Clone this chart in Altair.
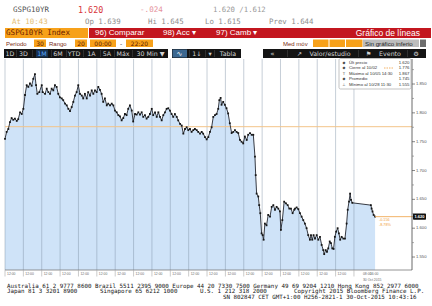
import altair as alt
import pandas as pd

# ---------------- data ----------------
# t = trading-day position (one unit per session), v = yield
T = [0.00,0.09,0.18,0.27,0.36,0.45,0.54,0.64,0.72,0.82,
     0.91,1.00,1.09,1.18,1.27,1.36,1.45,1.54,1.63,1.69,
     1.76,1.87,2.00,2.05,2.18,2.27,2.36,2.45,2.54,2.63,
     2.72,2.81,2.90,2.99,3.09,3.17,3.27,3.36,3.45,3.54,
     3.63,3.72,3.81,3.90,3.99,4.08,4.18,4.26,4.35,4.45,
     4.53,4.63,4.72,4.81,4.90,4.99,5.08,5.17,5.26,5.35,
     5.44,5.54,5.62,5.72,5.81,5.90,5.99,6.08,6.17,6.26,
     6.35,6.44,6.53,6.62,6.71,6.80,6.90,6.98,7.08,7.17,
     7.26,7.35,7.44,7.53,7.62,7.71,7.80,7.89,7.99,8.07,
     8.17,8.26,8.35,8.44,8.53,8.62,8.71,8.80,8.89,8.98,
     9.07,9.16,9.25,9.35,9.43,9.53,9.62,9.71,9.80,9.89,
     9.98,10.07,10.16,10.25,10.34,10.44,10.52,10.62,10.71,10.79,
     10.89,10.98,11.07,11.16,11.25,11.34,11.43,11.52,11.61,11.67,
     11.74,11.79,11.88,11.97,12.06,12.15,12.24,12.34,12.43,12.52,
     12.61,12.70,12.79,12.88,12.97,13.06,13.16,13.24,13.34,13.43,
     13.52,13.61,13.65,13.70,13.79,13.84,13.90,13.97,14.03,14.08,
     14.15,14.24,14.33,14.43,14.52,14.61,14.70,14.79,14.88,14.97,
     15.02,15.10,15.20,15.30,15.39,15.48,15.57,15.66,15.75,15.79,
     15.88,15.97,16.06,16.15,16.24,16.33,16.42,16.51,16.60,16.66,
     16.73,16.80,16.88,16.97,17.06,17.15,17.24,17.33,17.38,17.46,
     17.53,17.60,17.68,17.75,17.82,17.89,17.96,18.03,18.11,18.18,
     18.25,18.33,18.42,18.51,18.60,18.66,18.73,18.79,18.84,18.91,
     19.92,19.96,20.01,20.07,20.15]
V = [1.755,1.767,1.772,1.784,1.791,1.788,1.790,1.786,1.789,1.801,
     1.798,1.807,1.831,1.848,1.845,1.851,1.847,1.859,1.867,1.848,
     1.833,1.836,1.848,1.836,1.833,1.842,1.836,1.833,1.842,1.839,
     1.848,1.845,1.833,1.827,1.825,1.822,1.816,1.813,1.807,1.803,
     1.810,1.819,1.830,1.836,1.848,1.833,1.830,1.825,1.833,1.825,
     1.836,1.830,1.839,1.833,1.839,1.836,1.845,1.840,1.833,1.819,
     1.825,1.813,1.816,1.813,1.816,1.813,1.804,1.801,1.796,1.794,
     1.787,1.791,1.798,1.796,1.807,1.813,1.804,1.785,1.798,1.797,
     1.801,1.797,1.801,1.793,1.796,1.790,1.793,1.798,1.807,1.796,
     1.801,1.793,1.801,1.793,1.787,1.796,1.801,1.807,1.808,1.804,
     1.798,1.793,1.798,1.793,1.787,1.781,1.778,1.764,1.772,1.775,
     1.770,1.772,1.767,1.770,1.772,1.770,1.767,1.764,1.767,1.764,
     1.758,1.754,1.758,1.767,1.775,1.793,1.796,1.798,1.807,1.822,
     1.826,1.814,1.819,1.814,1.808,1.799,1.782,1.765,1.767,1.770,
     1.767,1.765,1.753,1.750,1.747,1.759,1.753,1.762,1.765,1.762,
     1.762,1.724,1.692,1.660,1.655,1.640,1.626,1.591,1.588,1.580,
     1.608,1.605,1.623,1.620,1.637,1.640,1.632,1.637,1.634,1.629,
     1.597,1.614,1.646,1.643,1.640,1.634,1.634,1.626,1.632,1.634,
     1.636,1.633,1.626,1.620,1.614,1.608,1.600,1.588,1.580,1.588,
     1.580,1.588,1.582,1.588,1.580,1.585,1.571,1.562,1.555,1.562,
     1.559,1.565,1.577,1.574,1.565,1.564,1.585,1.594,1.600,1.591,
     1.580,1.585,1.582,1.582,1.608,1.632,1.646,1.660,1.649,1.644,
     1.640,1.634,1.629,1.623,1.620]

GRID_T = list(range(20))
X_LABEL_T = list(range(19)) + [19.38, 19.76]
X_LABELS = ["12:00"] * 19 + ["08:00", "16:00"]
X_DATE_T = [19.38]
X_DATE = ["30 Oct 2015"]
Y_TICKS = [1.55, 1.60, 1.65, 1.70, 1.75, 1.80, 1.85]
Y_LABELS = ["1.550", "1.600", "1.650", "1.700", "1.750", "1.800", "1.850"]
Y_MINOR = [1.575, 1.625, 1.675, 1.725, 1.775, 1.825, 1.875]
CLOSE_REF = [1.776]
LAST_T = [20.15]
LAST_V = [1.620]
LAST_LABEL = ["1.620"]
CHANGE_T = [20.36]
CHANGE_TXT = ["-0.156", "-8.78%"]
X_DOMAIN = [0, 22.16]
Y_DOMAIN = [1.5275, 1.8934]

LEGEND_LABELS = ["Últ precio", "Cierre al 10/02", "Máximo al 10/05 14:30", "Promedio", "Mínimo al 10/28 11:30"]
LEGEND_VALUES = ["1.620", "1.776", "1.867", "1.745", "1.555"]
LEGEND_SYMBOLS = ["◆", "◆", "T", "◆", "⊥"]

assert len(T) == len(V)

# ---------------- layout (page pixels) ----------------
W, H = 407, 211
OX, OY = 5, 59

series = pd.DataFrame({"t": T, "v": V})
xs = alt.Scale(domain=X_DOMAIN, nice=False, zero=False)
ys = alt.Scale(domain=Y_DOMAIN, nice=False, zero=False)

area = alt.Chart(series).mark_area(color="#cfe3f8", clip=True).encode(
    x=alt.X("t:Q", scale=xs, axis=None),
    y=alt.Y("v:Q", scale=ys, axis=None))

grid = alt.Chart(pd.DataFrame({"g": GRID_T})).mark_rule(
    color="#7d8ea3", opacity=0.55, strokeWidth=0.8).encode(x=alt.X("g:Q", scale=xs, axis=None))

close = alt.Chart(pd.DataFrame({"c": CLOSE_REF})).mark_rule(
    color="#f3c489", strokeWidth=1).encode(y=alt.Y("c:Q", scale=ys, axis=None))

line = alt.Chart(series).mark_line(color="#23262f", strokeWidth=0.9).encode(
    x=alt.X("t:Q", scale=xs, axis=None), y=alt.Y("v:Q", scale=ys, axis=None))
pts = alt.Chart(series).mark_point(shape="square", size=3.2, filled=True, color="#161616", opacity=1).encode(
    x=alt.X("t:Q", scale=xs, axis=None), y=alt.Y("v:Q", scale=ys, axis=None))

last_df = pd.DataFrame({"t": LAST_T, "v": LAST_V, "lab": LAST_LABEL})
last_rule = alt.Chart(last_df).mark_rule(color="#f2b469", strokeWidth=1).encode(
    x=alt.X("t:Q", scale=xs, axis=None), x2=alt.value(W + 1), y=alt.Y("v:Q", scale=ys, axis=None))

chg_df = pd.DataFrame({"t": CHANGE_T * 2, "v": LAST_V * 2, "txt": CHANGE_TXT, "k": [0, 1]})
chg1 = alt.Chart(chg_df).transform_filter("datum.k == 0").mark_text(
    align="left", baseline="middle", dy=3, fontSize=3.8, color="#f0a040", font="Liberation Sans").encode(
    x=alt.X("t:Q", scale=xs, axis=None), y=alt.Y("v:Q", scale=ys, axis=None), text="txt:N")
chg2 = alt.Chart(chg_df).transform_filter("datum.k == 1").mark_text(
    align="left", baseline="middle", dy=8, fontSize=3.8, color="#f0a040", font="Liberation Sans").encode(
    x=alt.X("t:Q", scale=xs, axis=None), y=alt.Y("v:Q", scale=ys, axis=None), text="txt:N")

# ---- hand-built axes (bottom time axis, right yield axis) ----
xlab_df = pd.DataFrame({"t": X_LABEL_T, "lab": X_LABELS})
x_ticks = alt.Chart(pd.DataFrame({"t": GRID_T})).mark_rule(color="#a8a8a8", strokeWidth=0.6).encode(
    x=alt.X("t:Q", scale=xs, axis=None), y=alt.value(H), y2=alt.value(H + 6.5))
x_labels = alt.Chart(xlab_df).mark_text(
    align="left", baseline="top", dx=2, fontSize=3.4, color="#6a6a6a", font="Liberation Sans").encode(
    x=alt.X("t:Q", scale=xs, axis=None), y=alt.value(H + 2), text="lab:N")
x_date = alt.Chart(pd.DataFrame({"t": X_DATE_T, "lab": X_DATE})).mark_text(
    align="left", baseline="top", dx=2, fontSize=3.4, color="#6a6a6a", font="Liberation Sans").encode(
    x=alt.X("t:Q", scale=xs, axis=None), y=alt.value(H + 7.5), text="lab:N")
x_domain = alt.Chart(pd.DataFrame({"k": [0]})).mark_rule(color="#7a7a7a", strokeWidth=0.8).encode(
    x=alt.value(0), x2=alt.value(W), y=alt.value(H))

ylab_df = pd.DataFrame({"v": Y_TICKS, "lab": Y_LABELS})
y_ticks = alt.Chart(ylab_df).mark_rule(color="#555555", strokeWidth=0.7).encode(
    x=alt.value(W), x2=alt.value(W + 3), y=alt.Y("v:Q", scale=ys, axis=None))
y_labels = alt.Chart(ylab_df).mark_text(
    align="left", baseline="middle", fontSize=4.2, color="#555555", font="Liberation Sans").encode(
    x=alt.value(W + 4), y=alt.Y("v:Q", scale=ys, axis=None), text="lab:N")
y_minor = alt.Chart(pd.DataFrame({"m": Y_MINOR})).mark_rule(color="#777777", strokeWidth=0.6).encode(
    x=alt.value(W), x2=alt.value(W + 2), y=alt.Y("m:Q", scale=ys, axis=None))
y_domain = alt.Chart(pd.DataFrame({"k": [0]})).mark_rule(color="#444444", strokeWidth=0.8).encode(
    x=alt.value(W), y=alt.value(0), y2=alt.value(H))

tag_rect = alt.Chart(last_df).transform_calculate(
    lo="datum.v - 0.0055", hi="datum.v + 0.0055").mark_rect(color="#111111", cornerRadius=1).encode(
    x=alt.value(W + 1), x2=alt.value(W + 14), y=alt.Y("lo:Q", scale=ys, axis=None), y2="hi:Q")
tag_text = alt.Chart(last_df).mark_text(
    color="white", fontSize=4, align="center", baseline="middle", font="Liberation Sans", fontWeight="bold").encode(
    x=alt.value(W + 7.5), y=alt.Y("v:Q", scale=ys, axis=None), text="lab:N")


def chrome_rects(rows, **kw):
    df = pd.DataFrame(rows, columns=["ax1", "ay1", "ax2", "ay2", "col"])
    return alt.Chart(df).transform_calculate(
        px1=f"datum.ax1 - {OX}", px2=f"datum.ax2 - {OX}",
        py1=f"datum.ay1 - {OY}", py2=f"datum.ay2 - {OY}").mark_rect(**kw).encode(
        x=alt.X("px1:Q", scale=None, axis=None), x2="px2:Q",
        y=alt.Y("py1:Q", scale=None, axis=None), y2="py2:Q",
        color=alt.Color("col:N", scale=None, legend=None))


def chrome_text(rows, font, align, weight="normal"):
    df = pd.DataFrame(rows, columns=["ax", "ay", "txt", "col", "fs"])
    return alt.Chart(df).transform_calculate(
        px=f"datum.ax - {OX}", py=f"datum.ay - {OY}").mark_text(
        font=font, align=align, baseline="middle", fontWeight=weight).encode(
        x=alt.X("px:Q", scale=None, axis=None),
        y=alt.Y("py:Q", scale=None, axis=None),
        text="txt:N",
        color=alt.Color("col:N", scale=None, legend=None),
        size=alt.Size("fs:Q", scale=None, legend=None))


ORANGE = "#f7a11a"
rect_rows = [
    (5, 28, 88, 38, ORANGE),
    (89, 28, 431, 38, "#c3161f"),
    (34, 39.5, 46, 47, ORANGE),
    (75, 39.5, 87, 47, ORANGE),
    (90, 39.5, 116, 47, ORANGE),
    (126, 39.5, 153, 47, ORANGE),
    (313, 39.5, 328.5, 47, ORANGE),
    (329.5, 39.5, 345, 47, ORANGE),
    (346, 39.5, 362.5, 47, ORANGE),
    (363, 39.5, 419, 47, "#bdbdbd"),
    (420, 39.5, 426, 47, "#6e6e6e"),
    (4, 49, 168, 58, "#141414"),
    (172, 49, 241, 58, "#141414"),
    (263, 49, 426, 58, "#141414"),
    (36, 49.5, 48, 57.5, "#17324f"),
    (172.5, 49.5, 187, 57.5, "#3b6790"),
]
for sx in [16, 32, 51, 66, 83, 100, 114, 132, 189, 205, 214, 287, 358, 407]:
    rect_rows.append((sx, 50, sx + 0.6, 57, "#444444"))
rects = chrome_rects(rect_rows)

legbox = chrome_rects([(339, 58.5, 411, 89, "#ffffff")], stroke="#9a9a9a", strokeWidth=0.6, cornerRadius=1.5)
legdash = alt.Chart(pd.DataFrame({"k": [0]})).mark_rule(
    color="#f0a040", strokeWidth=0.8, strokeDash=[1.5, 1]).encode(
    x=alt.value(384 - OX), x2=alt.value(394 - OX), y=alt.value(68 - OY))

FOOT = "#151515"
mono_left = [
    (13, 10, "GSPG10YR", "#505050", 7.5),
    (78, 10, "1.620", "#d8343a", 8.4),
    (140, 10, "-.024", "#e5939c", 7.6),
    (213, 10, "1.620 /1.612", "#9a9a9a", 7.3),
    (12, 21.5, "At 10:43", "#e3bd73", 7.4),
    (85, 21.5, "Op 1.639", "#8e8e8e", 7.4),
    (148, 21.5, "Hi 1.645", "#8e8e8e", 7.4),
    (205, 21.5, "Lo 1.615", "#8e8e8e", 7.4),
    (269, 21.5, "Prev 1.644", "#8e8e8e", 7.4),
    (6, 33.3, "GSPG10YR Index", "#6a1c00", 7.6),
    (7, 285.5, "Australia 61 2 9777 8600 Brazil 5511 2395 9000 Europe 44 20 7330 7500 Germany 49 69 9204 1210 Hong Kong 852 2977 6000", FOOT, 5.85),
    (7, 291, "Japan 81 3 3201 8900", FOOT, 5.85),
    (100, 291, "Singapore 65 6212 1000", FOOT, 5.85),
    (200, 291, "U.S. 1 212 318 2000", FOOT, 5.85),
    (294, 291, "Copyright 2015 Bloomberg Finance L.P.", FOOT, 5.85),
    (223, 297, "SN 802847 CET  GMT+1:00 H256-2821-1 30-Oct-2015 10:43:16", FOOT, 5.85),
]
sans_left = [
    (95, 33.3, "96) Comparar", "#ffffff", 8),
    (163, 33.3, "98) Acc ▾", "#ffffff", 8),
    (216, 33.3, "97) Camb ▾", "#ffffff", 8),
    (6, 43.5, "Periodo", "#7a2c12", 6),
    (49, 43.5, "Rango", "#7a2c12", 6),
    (283, 43.5, "Med móv", "#7a2c12", 6),
    (365, 43.5, "Sin gráfico inferio", "#262626", 6.2),
]
for i, lab in enumerate(LEGEND_LABELS):
    sans_left.append((349, 62.5 + 5.5 * i, lab, "#333333", 4.3))
sans_right = [(420, 33.3, "Gráfico de líneas", "#ffffff", 8.5)]
for i, val in enumerate(LEGEND_VALUES):
    sans_right.append((409.5, 62.5 + 5.5 * i, val, "#333333", 4.3))
TB = "#d4d4d4"
sans_center = [
    (40, 43.5, "30", "#5a1800", 6),
    (81, 43.5, "20", "#5a1800", 6),
    (103, 43.5, "00:00", "#5a1800", 6),
    (121, 43.5, "-", "#333333", 6),
    (139.5, 43.5, "22:20", "#5a1800", 6),
    (10, 53.7, "1D", TB, 6.3),
    (23.5, 53.7, "3D", TB, 6.3),
    (42, 53.7, "1M", "#5aa6ff", 6.3),
    (58, 53.7, "6M", TB, 6.3),
    (74, 53.7, "YTD", TB, 6.3),
    (91.5, 53.7, "1A", TB, 6.3),
    (107, 53.7, "5A", TB, 6.3),
    (123, 53.7, "Máx", TB, 6.3),
    (150.5, 53.7, "30 Min ▼", TB, 6.3),
    (179.5, 53.7, "∿", "#ffffff", 7),
    (197, 53.7, "1↓", TB, 6.3),
    (210, 53.7, "▾", TB, 6.3),
    (228, 53.7, "Tabla", TB, 6.3),
    (272.5, 53.7, "«", TB, 7),
    (299.5, 53.7, "↗", TB, 6.3),
    (330, 53.7, "Valor/estudio", TB, 6.3),
    (368.5, 53.7, "⚑", TB, 6.3),
    (390, 53.7, "Evento", TB, 6.3),
    (416, 53.7, "⚙", TB, 6.3),
]
for i, sym in enumerate(LEGEND_SYMBOLS):
    sans_center.append((344, 62.5 + 5.5 * i, sym, "#444444", 3.8))

chart = alt.layer(
    area, grid, close, line, pts, last_rule, chg1, chg2,
    x_domain, x_ticks, x_labels, x_date, y_domain, y_ticks, y_minor, y_labels,
    tag_rect, tag_text,
    legbox, legdash, rects,
    chrome_text(mono_left, "DejaVu Sans Mono", "left"),
    chrome_text(sans_left, "Liberation Sans", "left"),
    chrome_text(sans_right, "Liberation Sans", "right"),
    chrome_text(sans_center, "DejaVu Sans", "center"),
).properties(
    width=W, height=H,
    padding={"left": OX, "top": OY, "right": 432 - OX - W, "bottom": 306 - OY - H},
    autosize=alt.AutoSizeParams(type="none"),
).configure(background="white").configure_view(strokeWidth=0)

chart.save("out.html", embed_options={"renderer": "svg", "actions": False})
